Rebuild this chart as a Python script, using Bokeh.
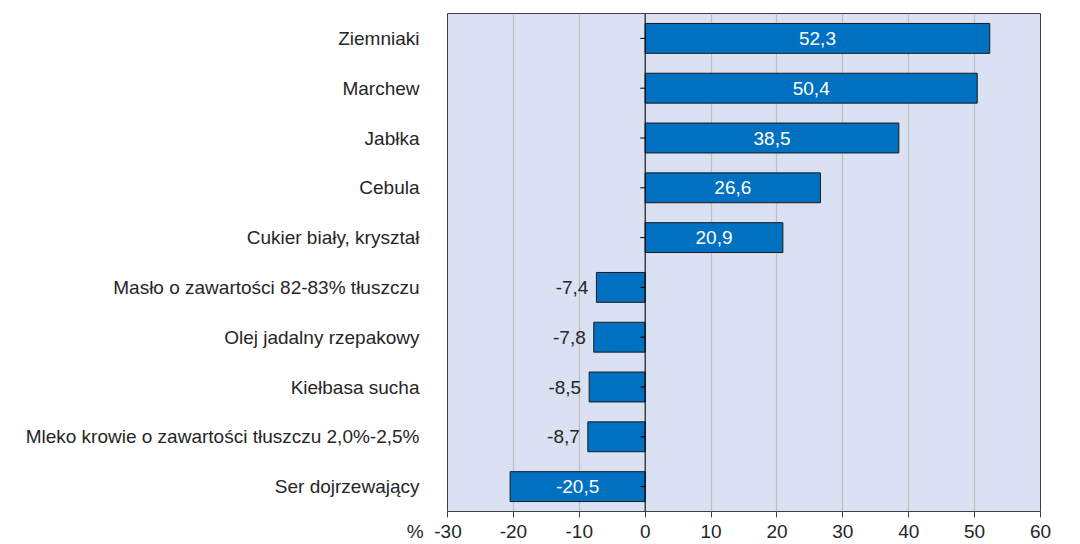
from bokeh.plotting import figure
from bokeh.models import ColumnDataSource, Range1d, FactorRange, FixedTicker, Span
from bokeh.core.properties import value
from bokeh.embed import file_html
from bokeh.resources import INLINE

categories = [
    "Ziemniaki",
    "Marchew",
    "Jabłka",
    "Cebula",
    "Cukier biały, kryształ",
    "Masło o zawartości 82-83% tłuszczu",
    "Olej jadalny rzepakowy",
    "Kiełbasa sucha",
    "Mleko krowie o zawartości tłuszczu 2,0%-2,5%",
    "Ser dojrzewający",
]
values = [52.3, 50.4, 38.5, 26.6, 20.9, -7.4, -7.8, -8.5, -8.7, -20.5]
x_ticks = [-30, -20, -10, 0, 10, 20, 30, 40, 50, 60]
unit_label = "%"

FONT = "Liberation Sans"
FS = "19px"
TXT = "#262626"
BAR = "#0070C0"
BG = "#D9E1F2"
NBSP = "\u00a0"

labels = [f"{v:.1f}".replace(".", ",") for v in values]
inside = [abs(v) > 10 for v in values]

src = ColumnDataSource(dict(cat=categories, val=values, zero=[0] * len(values)))
src_in = ColumnDataSource(dict(
    cat=[c for c, i in zip(categories, inside) if i],
    x=[v / 2 for v, i in zip(values, inside) if i],
    t=[l for l, i in zip(labels, inside) if i],
))
src_out = ColumnDataSource(dict(
    cat=[c for c, i in zip(categories, inside) if not i],
    x=[v for v, i in zip(values, inside) if not i],
    t=[l for l, i in zip(labels, inside) if not i],
))

p = figure(
    width=1080, height=544,
    y_range=FactorRange(*reversed(categories)),
    x_range=Range1d(x_ticks[0], x_ticks[-1]),
    output_backend="svg", toolbar_location=None,
    min_border_left=447, min_border_right=40, min_border_top=13, min_border_bottom=31,
)
p.background_fill_color = BG
p.border_fill_color = "white"
p.outline_line_color = "#404040"
p.outline_line_width = 1

p.ygrid.grid_line_color = None
p.xgrid.grid_line_color = "#BFBFBF"
p.xgrid.grid_line_width = 1.2

p.hbar(y="cat", left="zero", right="val", height=0.6, source=src,
       fill_color=BAR, line_color="#1a1a1a", line_width=1)

# zero line and category ticks
p.add_layout(Span(location=0, dimension="height", line_color="black", line_width=1))
p.segment(x0="zero", x1=-0.75, y0="cat", y1="cat", source=src,
          line_color="black", line_width=1)

p.text(x="x", y="cat", text="t", source=src_in, text_align="center", text_baseline="middle",
       text_color="white", text_font=value(FONT), text_font_size=FS)
p.text(x="x", y="cat", text="t", source=src_out, text_align="right", text_baseline="middle",
       x_offset=-8, text_color=TXT, text_font=value(FONT), text_font_size=FS)

xa = p.xaxis[0]
xa.ticker = FixedTicker(ticks=x_ticks)
overrides = {t: str(t) for t in x_ticks}
# unit sign "%" sits left of the first tick label, first label stays centred on its tick
overrides[x_ticks[0]] = unit_label + NBSP * 2 + str(x_ticks[0]) + NBSP * 5
xa.major_label_overrides = overrides
xa.axis_line_color = None
xa.major_tick_line_color = "#404040"
xa.major_tick_out = 6
xa.major_tick_in = 0
xa.minor_tick_line_color = None
xa.major_label_standoff = 3
xa.major_label_text_font = FONT
xa.major_label_text_font_size = FS
xa.major_label_text_color = TXT

ya = p.yaxis[0]
ya.axis_line_color = None
ya.major_tick_line_color = None
ya.minor_tick_line_color = None
ya.major_label_standoff = 22
ya.major_label_text_font = FONT
ya.major_label_text_font_size = FS
ya.major_label_text_color = TXT

open("out.html", "w").write(file_html(p, INLINE))
